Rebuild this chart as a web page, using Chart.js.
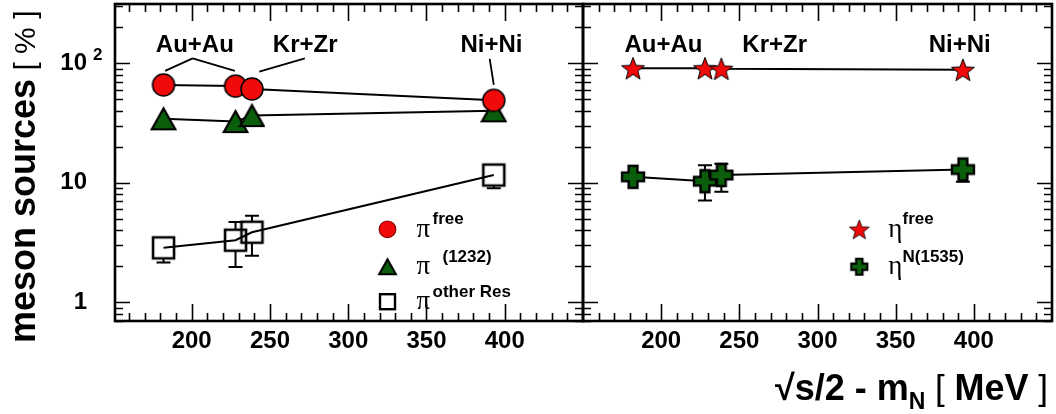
<!DOCTYPE html>
<html>
<head>
<meta charset="utf-8">
<script src="https://cdn.jsdelivr.net/npm/chart.js@4.4.0/dist/chart.umd.min.js"></script>
<style>
  body { margin: 0; background: #fff; width: 1056px; height: 414px; overflow: hidden; position: relative; }
  canvas { position: absolute; top: 0; }
  #left { left: 0; }
  #right { left: 571px; }
</style>
</head>
<body>
<canvas id="left" width="595" height="414"></canvas>
<canvas id="right" width="485" height="414"></canvas>
<script>
// beam energy: sqrt(s)/2 - m_N [MeV] for Au+Au, Au+Au, Kr+Zr, Ni+Ni
const energy = [182, 228, 238.5, 393];

// left panel: pion sources [%]
const piFree = [66, 64.5, 61, 49];
const piDelta = [34.3, 32.5, 36.5, 40];
const piOther = [2.85, 3.3, 3.85, 11.6];
const piOtherLo = [2.15, 1.97, 2.45, 9.0];
const piOtherHi = [3.45, 4.7, 5.3, 14.2];

// right panel: eta sources [%]
const etaFree = [91, 91, 90, 88.3];
const etaN1535 = [11.2, 10.3, 11.6, 12.9];
const etaN1535Lo = [null, 7.1, 8.4, 10.2];
const etaN1535Hi = [null, 14.0, 14.4, 15.6];

const xTicks = [200, 250, 300, 350, 400];
const yTicks = [1, 10, 100];

const RED = '#f00a0a';
const GREEN = '#0b5e0b';
const BOLD = 'Liberation Sans';

function pts(ys) { return energy.map((x, i) => ({ x: x, y: ys[i] })); }

// marker images for pointStyle
function marker(kind, size, fill, lw) {
  const c = document.createElement('canvas');
  const s = Math.ceil(size + 6);
  c.width = s; c.height = s;
  const g = c.getContext('2d');
  const m = s / 2, r = size / 2;
  g.fillStyle = fill;
  g.strokeStyle = '#000';
  g.lineWidth = lw;
  g.beginPath();
  if (kind === 'triangle') {
    g.moveTo(m, m - r);
    g.lineTo(m + r * 1.12, m + r);
    g.lineTo(m - r * 1.12, m + r);
  } else if (kind === 'star') {
    for (let i = 0; i < 10; i++) {
      const a = -Math.PI / 2 + i * Math.PI / 5;
      const rr = i % 2 ? r * 0.42 : r;
      g.lineTo(m + rr * Math.cos(a), m + rr * Math.sin(a) + r * 0.1);
    }
  } else if (kind === 'plus') {
    const w = r * 0.4;
    g.moveTo(m - w, m - r); g.lineTo(m + w, m - r); g.lineTo(m + w, m - w);
    g.lineTo(m + r, m - w); g.lineTo(m + r, m + w); g.lineTo(m + w, m + w);
    g.lineTo(m + w, m + r); g.lineTo(m - w, m + r); g.lineTo(m - w, m + w);
    g.lineTo(m - r, m + w); g.lineTo(m - r, m - w); g.lineTo(m - w, m - w);
  } else if (kind === 'circle') {
    g.arc(m, m, r, 0, Math.PI * 2);
  } else if (kind === 'square') {
    g.rect(m - r, m - r, size, size);
  }
  g.closePath();
  if (fill) g.fill();
  g.stroke();
  return c;
}

const circleBig = marker('circle', 22, RED, 1.5);
const triBig = marker('triangle', 21, GREEN, 2.2);
const squareBig = marker('square', 21, null, 2.6);
const starBig = marker('star', 24, RED, 1);
const plusBig = marker('plus', 22, GREEN, 2.4);

function drawRich(ctx, parts, x, y) {
  parts.forEach(p => {
    ctx.font = p.font;
    ctx.fillText(p.t, x, y + (p.dy || 0));
    x += ctx.measureText(p.t).width;
  });
}
function richWidth(ctx, parts) {
  let w = 0;
  parts.forEach(p => { ctx.font = p.font; w += ctx.measureText(p.t).width; });
  return w;
}

// inward ticks on all four sides plus the frame
const frame = {
  id: 'frame',
  afterDraw(chart) {
    const { ctx, chartArea: a, scales: { x, y } } = chart;
    ctx.save();
    ctx.strokeStyle = '#000';
    ctx.lineWidth = 1.6;
    ctx.beginPath();
    for (let v = 160; v < 450; v += 10) {
      if (v <= x.min) continue;
      const px = Math.round(x.getPixelForValue(v)) + 0.5;
      const L = v % 50 === 0 ? 17 : 8;
      ctx.moveTo(px, a.bottom); ctx.lineTo(px, a.bottom - L);
      ctx.moveTo(px, a.top); ctx.lineTo(px, a.top + L);
    }
    for (let k = -1; k <= 2; k++) {
      for (let m = 1; m <= 9; m++) {
        const v = m * Math.pow(10, k);
        if (v <= y.min || v >= y.max) continue;
        const py = Math.round(y.getPixelForValue(v)) + 0.5;
        const L = m === 1 ? 15 : 8;
        ctx.moveTo(a.left, py); ctx.lineTo(a.left + L, py);
        ctx.moveTo(a.right, py); ctx.lineTo(a.right - L, py);
      }
    }
    ctx.stroke();
    ctx.lineWidth = 2.6;
    ctx.strokeRect(a.left, a.top, a.right - a.left, a.bottom - a.top);
    ctx.restore();
  }
};

// vertical error bars, drawn outside the marker only
function errorBars(chart, vals, lo, hi, half) {
  const { ctx, scales: { x, y } } = chart;
  ctx.save();
  ctx.strokeStyle = '#000';
  ctx.lineWidth = 2;
  ctx.beginPath();
  energy.forEach((e, i) => {
    if (lo[i] == null) return;
    const px = x.getPixelForValue(e);
    const py = y.getPixelForValue(vals[i]);
    const pLo = y.getPixelForValue(lo[i]);
    const pHi = y.getPixelForValue(hi[i]);
    if (pLo > py + half) {
      ctx.moveTo(px, py + half); ctx.lineTo(px, pLo);
      ctx.moveTo(px - 7, pLo); ctx.lineTo(px + 7, pLo);
    }
    if (pHi < py - half) {
      ctx.moveTo(px, py - half); ctx.lineTo(px, pHi);
      ctx.moveTo(px - 7, pHi); ctx.lineTo(px + 7, pHi);
    }
  });
  ctx.stroke();
  ctx.restore();
}

function systemLabels(chart, labels) {
  const { ctx, scales: { x, y } } = chart;
  ctx.save();
  ctx.fillStyle = '#000';
  ctx.font = 'bold 24px "' + BOLD + '"';
  ctx.textAlign = 'center';
  ctx.textBaseline = 'alphabetic';
  labels.forEach(l => ctx.fillText(l.t, x.getPixelForValue(l.x), 51.5));
  ctx.restore();
}

function legendEntry(ctx, mx, my, drawMarker, greek, sup, supX) {
  drawMarker(mx, my);
  ctx.fillStyle = '#000';
  ctx.textAlign = 'left';
  ctx.textBaseline = 'alphabetic';
  ctx.font = '27px "Liberation Serif"';
  ctx.fillText(greek, mx + 29, my + 7.5);
  ctx.font = 'bold 17px "' + BOLD + '"';
  ctx.fillText(sup, supX, my - 5);
}

const leftExtras = {
  id: 'leftExtras',
  afterDatasetsDraw(chart) {
    const { ctx, scales: { x, y }, chartArea: a } = chart;
    errorBars(chart, piOther, piOtherLo, piOtherHi, 11);
    systemLabels(chart, [{ t: 'Au+Au', x: 202 }, { t: 'Kr+Zr', x: 272.5 }, { t: 'Ni+Ni', x: 391.5 }]);
    // leader lines from the labels to the points
    ctx.save();
    ctx.strokeStyle = '#000';
    ctx.lineWidth = 1.8;
    const seg = (x1, y1, x2, y2) => {
      ctx.moveTo(x.getPixelForValue(x1), y.getPixelForValue(y1));
      ctx.lineTo(x.getPixelForValue(x2), y.getPixelForValue(y2));
    };
    ctx.beginPath();
    seg(183, 86.4, 200.6, 110); seg(200.6, 110, 227.6, 86.4);
    seg(243.2, 85.2, 272.3, 110);
    seg(390.4, 109, 393, 66);
    ctx.stroke();
    ctx.restore();

    // superscript of the 10^2 label
    ctx.save();
    ctx.fillStyle = '#000';
    ctx.font = 'bold 17px "' + BOLD + '"';
    ctx.textAlign = 'left';
    ctx.textBaseline = 'alphabetic';
    ctx.fillText('2', a.left - 22, y.getPixelForValue(100) - 3);

    // legend
    legendEntry(ctx, 387.5, 229.3, (mx, my) => {
      ctx.beginPath(); ctx.arc(mx, my, 8.3, 0, Math.PI * 2);
      ctx.fillStyle = RED; ctx.fill();
      ctx.lineWidth = 1.2; ctx.strokeStyle = '#8a0000'; ctx.stroke();
    }, 'π', 'free', 432.5);
    legendEntry(ctx, 387.5, 266.7, (mx, my) => {
      ctx.drawImage(marker('triangle', 15, GREEN, 2), mx - 10.5, my - 10.5);
    }, 'π', '(1232)', 442.5);
    legendEntry(ctx, 387.5, 301.7, (mx, my) => {
      ctx.lineWidth = 2.4; ctx.strokeStyle = '#000';
      ctx.strokeRect(mx - 7.5, my - 7.5, 15, 15);
    }, 'π', 'other Res', 432.5);

    // y axis title
    ctx.translate(35, 343);
    ctx.rotate(-Math.PI / 2);
    drawRich(ctx, [
      { t: 'meson sources', font: 'bold 36px "' + BOLD + '"' },
      { t: ' [ % ]', font: '30px "' + BOLD + '"' }
    ], 0, 0);
    ctx.restore();
  }
};

const rightExtras = {
  id: 'rightExtras',
  afterDatasetsDraw(chart) {
    const { ctx } = chart;
    errorBars(chart, etaN1535, etaN1535Lo, etaN1535Hi, 11);
    systemLabels(chart, [{ t: 'Au+Au', x: 201.5 }, { t: 'Kr+Zr', x: 272.6 }, { t: 'Ni+Ni', x: 391 }]);
    ctx.save();
    const off = 571;
    legendEntry(ctx, 859.3 - off, 229.3, (mx, my) => {
      ctx.drawImage(marker('star', 21, RED, 0.8), mx - 13.5, my - 13.5);
    }, 'η', 'free', 902.5 - off);
    legendEntry(ctx, 859.3 - off, 266.7, (mx, my) => {
      ctx.drawImage(marker('plus', 16, GREEN, 2.2), mx - 11, my - 11);
    }, 'η', 'N(1535)', 902.5 - off);

    // x axis title, right aligned
    ctx.fillStyle = '#000';
    ctx.textAlign = 'left';
    const parts = [
      { t: '√s/2 - m', font: 'bold 36px "' + BOLD + '"' },
      { t: 'N', font: 'bold 23px "' + BOLD + '"', dy: 9 },
      { t: ' [ ', font: '35px "' + BOLD + '"' },
      { t: 'MeV', font: 'bold 36px "' + BOLD + '"' },
      { t: ' ]', font: '35px "' + BOLD + '"' }
    ];
    drawRich(ctx, parts, 1048 - off - richWidth(ctx, parts), 400);
    ctx.restore();
  }
};

function panel(id, datasets, xmin, yWidth, pad, showY, extras) {
  return new Chart(document.getElementById(id), {
    type: 'line',
    data: { datasets: datasets },
    options: {
      responsive: false,
      animation: false,
      layout: { padding: pad },
      plugins: { legend: { display: false }, tooltip: { enabled: false } },
      elements: {
        line: { borderColor: '#000', borderWidth: 2, tension: 0 },
        // image markers: radius only has to be non-zero
        point: { radius: 0.5, borderWidth: 0 }
      },
      scales: {
        x: {
          type: 'linear', min: xmin, max: 450,
          grid: { display: false, drawTicks: false },
          border: { display: false },
          afterBuildTicks: s => { s.ticks = xTicks.map(v => ({ value: v })); },
          afterFit: s => { s.height = 93; s.paddingLeft = 0; s.paddingRight = 0; },
          ticks: { padding: 6, color: '#000', font: { family: BOLD, weight: 'bold', size: 24 } }
        },
        y: {
          type: 'logarithmic', min: 0.695, max: 314,
          grid: { display: false, drawTicks: false },
          border: { display: false },
          afterBuildTicks: s => { s.ticks = yTicks.map(v => ({ value: v })); },
          afterFit: s => { s.width = yWidth; s.paddingTop = 0; s.paddingBottom = 0; },
          ticks: {
            display: showY, padding: 28, color: '#000',
            font: { family: BOLD, weight: 'bold', size: 24 },
            callback: v => (v === 1 ? '1' : '10')
          }
        }
      }
    },
    plugins: [frame, extras]
  });
}

panel('left', [
  { data: pts(piFree), pointStyle: circleBig, showLine: true },
  { data: pts(piDelta), pointStyle: triBig, showLine: true },
  { data: pts(piOther), pointStyle: squareBig, showLine: true }
], 151, 115, { top: 3, right: 12, left: 0, bottom: 0 }, true, leftExtras);

panel('right', [
  { data: pts(etaFree), pointStyle: starBig, showLine: true },
  { data: pts(etaN1535), pointStyle: plusBig, showLine: true }
], 150, 12, { top: 3, right: 2, left: 0, bottom: 0 }, false, rightExtras);
</script>
</body>
</html>
